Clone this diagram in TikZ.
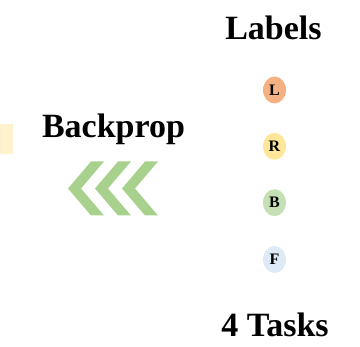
\documentclass[tikz,border=0pt]{standalone}
\usepackage{fontspec}
\setmainfont{Liberation Serif}
\usetikzlibrary{shapes.geometric}
\definecolor{pale}{HTML}{FFF2CC}
\definecolor{chev}{HTML}{A9D18E}
\definecolor{cL}{HTML}{F4B183}
\definecolor{cR}{HTML}{FFE699}
\definecolor{cB}{HTML}{C5E0B4}
\definecolor{cF}{HTML}{DEEBF7}
\tikzset{
  title/.style={font=\fontsize{34}{40}\selectfont\bfseries, inner sep=0pt, anchor=base},
  tag/.style={ellipse, minimum width=23pt, minimum height=27pt, inner sep=0pt,
              font=\fontsize{16}{18}\selectfont\bfseries},
  chevron/.style={fill=chev, draw=none}
}
\begin{document}
\begin{tikzpicture}[x=1pt,y=-1pt]
\useasboundingbox (0,0) rectangle (360,347);
\fill[pale] (0,124) rectangle (13,154);
\node[title] (bp) at (113.5,138) {Backprop};
\node[title] (lab) at (273.5,40) {Labels};
\node[title] (tasks) at (275,336.5) {4 Tasks};
\foreach \k in {0,1,2}{
  \pgfmathsetmacro{\t}{68+27*\k}
  \fill[chevron] (\t,188.5) -- ++(23,-27) -- ++(13,0) -- ++(-23,27) -- ++(23,27) -- ++(-13,0) -- cycle;
}
\node[tag, fill=cL] (l) at (274.5,90) {L};
\node[tag, fill=cR] (r) at (274.5,146.3) {R};
\node[tag, fill=cB] (b) at (274.5,202.7) {B};
\node[tag, fill=cF] (f) at (274.5,259.5) {F};
\end{tikzpicture}
\end{document}
